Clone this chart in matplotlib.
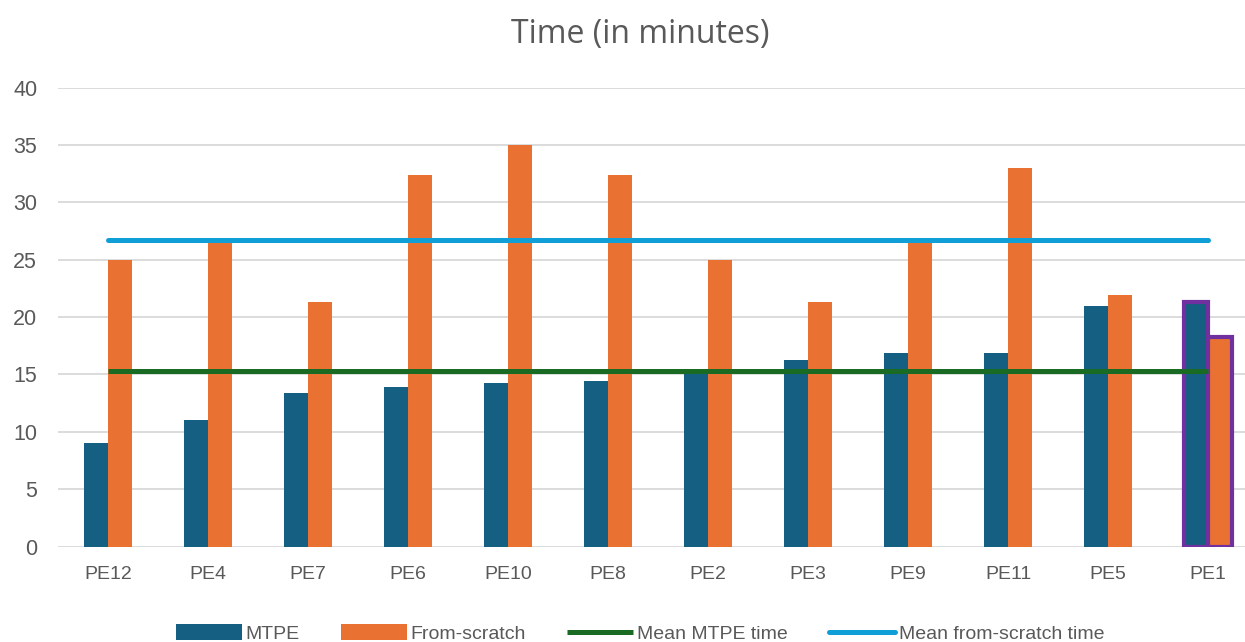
import numpy as np
import matplotlib
matplotlib.use("Agg")
import matplotlib.pyplot as plt

# participants, sorted by MTPE time
labels = ["PE12", "PE4", "PE7", "PE6", "PE10", "PE8", "PE2", "PE3", "PE9", "PE11", "PE5", "PE1"]
mtpe = [9.0, 11.0, 13.4, 13.9, 14.3, 14.4, 15.0, 16.3, 16.9, 16.9, 21.0, 21.3]
scratch = [25.0, 26.7, 21.3, 32.4, 35.0, 32.4, 25.0, 21.3, 26.7, 33.0, 21.9, 18.3]
mean_mtpe = 15.3
mean_scratch = 26.7

c_mtpe = "#156082"
c_scratch = "#E97132"
c_mean_mtpe = "#196B24"
c_mean_scratch = "#0F9ED5"
c_mark = "#7030A0"
grey = "#595959"

plt.rcParams["font.family"] = ["Liberation Sans", "DejaVu Sans"]

fig = plt.figure(figsize=(12.45, 6.42), dpi=100)
ax = fig.add_axes([0.0466, 0.1487, 0.9534, 0.7147])

x = np.arange(len(labels))
w = 0.24
b1 = ax.bar(x - w / 2, mtpe, w, color=c_mtpe, label="MTPE", zorder=2)
b2 = ax.bar(x + w / 2, scratch, w, color=c_scratch, label="From-scratch", zorder=2)

# highlight the last participant
for b in (b1[-1], b2[-1]):
    b.set_edgecolor(c_mark)
    b.set_linewidth(3)

l1, = ax.plot(x, [mean_mtpe] * len(x), color=c_mean_mtpe, lw=3.6,
              label="Mean MTPE time", zorder=3, solid_capstyle="butt")
l2, = ax.plot(x, [mean_scratch] * len(x), color=c_mean_scratch, lw=3.6,
              label="Mean from-scratch time", zorder=3, solid_capstyle="round")

ax.set_xlim(-0.5, 11.37)
ax.set_ylim(0, 40)
ax.set_yticks(range(0, 41, 5))
ax.set_xticks(x)
ax.set_xticklabels(labels)
ax.grid(axis="y", color="#D9D9D9", lw=1.3, zorder=0)
ax.set_axisbelow(True)
for s in ax.spines.values():
    s.set_visible(False)
ax.tick_params(axis="both", length=0, colors=grey)
ax.tick_params(axis="x", pad=14, labelsize=14)
ax.tick_params(axis="y", pad=15, labelsize=15.5)

fig.text(0.514, 0.947, "Time (in minutes)", ha="center", va="center",
         fontsize=23, color=grey, family=["Open Sans", "DejaVu Sans"])

leg_font = {"family": ["Liberation Sans Narrow", "Liberation Sans", "DejaVu Sans"], "size": 14}
fig.legend([b1, b2, l1, l2], ["MTPE", "From-scratch", "Mean MTPE time", "Mean from-scratch time"],
           loc="center", bbox_to_anchor=(0.514, 0.013), ncol=4, frameon=False,
           labelcolor=grey, handlelength=3.4, handleheight=0.9,
           handletextpad=0.2, columnspacing=2.1, prop=leg_font)

fig.savefig("out.png", dpi=100)
